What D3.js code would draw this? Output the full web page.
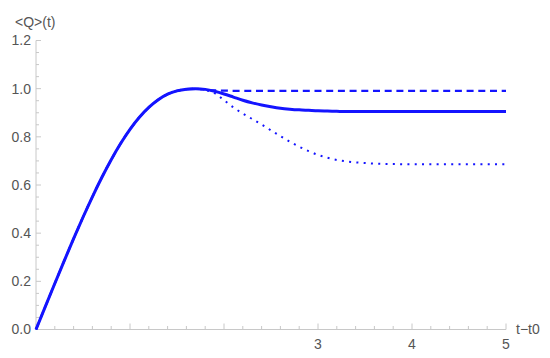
<!DOCTYPE html>
<html lang="en">
<head>
  <meta charset="UTF-8">
  <title>&lt;Q&gt;(t)</title>
  <script src="https://d3js.org/d3.v7.min.js"></script>
  <style>
    body { margin: 0; background: #fff; }
    svg { display: block; font-family: "Liberation Sans", Arial, sans-serif; }
  </style>
</head>
<body>
  <div id="chart"></div>
  <script>
    // sample times and the three curves
    const tValues = [0, 0.1, 0.2, 0.3, 0.4, 0.5, 0.6, 0.7, 0.8, 0.9,
                     1.0, 1.1, 1.2, 1.3, 1.4, 1.5, 1.6, 1.7, 1.8, 1.9,
                     2.0, 2.1, 2.2, 2.3, 2.4, 2.5, 2.6, 2.7, 2.8, 2.9,
                     3.0, 3.1, 3.2, 3.3, 3.4, 3.6, 3.8, 4.0, 4.5, 5.0];
    // common rising part, t = 0 .. 1.7
    const rise = [0, 0.096, 0.191, 0.285, 0.377, 0.466, 0.551, 0.631, 0.705, 0.772,
                  0.831, 0.881, 0.922, 0.954, 0.977, 0.991, 0.998, 1.0];
    const solidTail = [0.997, 0.989, 0.978, 0.965, 0.952, 0.941, 0.932, 0.925, 0.919, 0.915,
                       0.912, 0.91, 0.908, 0.907, 0.906, 0.905, 0.905, 0.905, 0.905, 0.905,
                       0.905, 0.905];
    const dashedTail = [0.996, 0.993, 0.992, 0.991, 0.991, 0.991, 0.991, 0.991, 0.991, 0.991,
                        0.991, 0.991, 0.991, 0.991, 0.991, 0.991, 0.991, 0.991, 0.991, 0.991,
                        0.991, 0.991];
    const dottedTail = [0.994, 0.981, 0.952, 0.922, 0.897, 0.874, 0.851, 0.827, 0.803, 0.78,
                        0.759, 0.741, 0.725, 0.713, 0.704, 0.698, 0.694, 0.689, 0.687, 0.686,
                        0.686, 0.686];
    const xTickLabels = [3, 4, 5];
    const yTickLabels = [0, 0.2, 0.4, 0.6, 0.8, 1.0, 1.2];

    const width = 550, height = 358;
    const svg = d3.select("#chart").append("svg")
      .attr("width", width).attr("height", height);

    const x = d3.scaleLinear().domain([0, 5]).range([36, 506]);
    const y = d3.scaleLinear().domain([0, 1.2]).range([329.5, 40.5]);

    const axisColor = "#c8c8c8";
    const textColor = "#555";
    const fontSize = 14;

    // y axis
    const yAxis = svg.append("g").attr("transform", `translate(${x(0)},0)`);
    yAxis.append("line")
      .attr("y1", y(0)).attr("y2", y(1.2))
      .attr("stroke", axisColor);
    yAxis.selectAll(".minor")
      .data(d3.range(0, 24.5).map(i => i * 0.05))
      .enter().append("line")
      .attr("y1", d => y(d)).attr("y2", d => y(d))
      .attr("x2", (d, i) => i % 4 === 0 ? 5 : 3)
      .attr("stroke", axisColor);
    yAxis.selectAll("text")
      .data(yTickLabels)
      .enter().append("text")
      .attr("x", -5)
      .attr("y", d => y(d))
      .attr("dy", "0.35em")
      .attr("text-anchor", "end")
      .attr("font-size", fontSize)
      .attr("fill", textColor)
      .text(d => d.toFixed(1));

    // x axis
    const xAxis = svg.append("g").attr("transform", `translate(0,${y(0)})`);
    xAxis.append("line")
      .attr("x1", x(0)).attr("x2", x(5))
      .attr("stroke", axisColor);
    xAxis.selectAll(".minor")
      .data(d3.range(0, 25.5).map(i => i * 0.2))
      .enter().append("line")
      .attr("x1", d => x(d)).attr("x2", d => x(d))
      .attr("y2", (d, i) => i % 5 === 0 ? -6 : -3.5)
      .attr("stroke", axisColor);
    xAxis.selectAll("text")
      .data(xTickLabels)
      .enter().append("text")
      .attr("x", d => x(d))
      .attr("y", 19)
      .attr("text-anchor", "middle")
      .attr("font-size", fontSize)
      .attr("fill", textColor)
      .text(d => d);

    // axis titles
    svg.append("text")
      .attr("x", 15).attr("y", 27)
      .attr("font-size", fontSize).attr("fill", textColor)
      .text("<Q>(t)");
    svg.append("text")
      .attr("x", 516).attr("y", y(0) + 4)
      .attr("font-size", fontSize).attr("fill", textColor)
      .text("t\u2212t0");

    // curves
    const line = d3.line()
      .x(d => x(d[0]))
      .y(d => y(d[1]))
      .curve(d3.curveMonotoneX);
    const series = tail => tValues.map((t, i) => [t, i < rise.length ? rise[i] : tail[i - rise.length]]);

    svg.append("path")
      .attr("d", line(series(solidTail)))
      .attr("fill", "none").attr("stroke", "#1414ff")
      .attr("stroke-width", 3);
    svg.append("path")
      .attr("d", line(series(dashedTail)))
      .attr("fill", "none").attr("stroke", "#1414ff")
      .attr("stroke-width", 2.2)
      .attr("stroke-dasharray", "7,4.7");
    svg.append("path")
      .attr("d", line(series(dottedTail)))
      .attr("fill", "none").attr("stroke", "#1414ff")
      .attr("stroke-width", 2)
      .attr("stroke-dasharray", "2,5.3");
  </script>
</body>
</html>
